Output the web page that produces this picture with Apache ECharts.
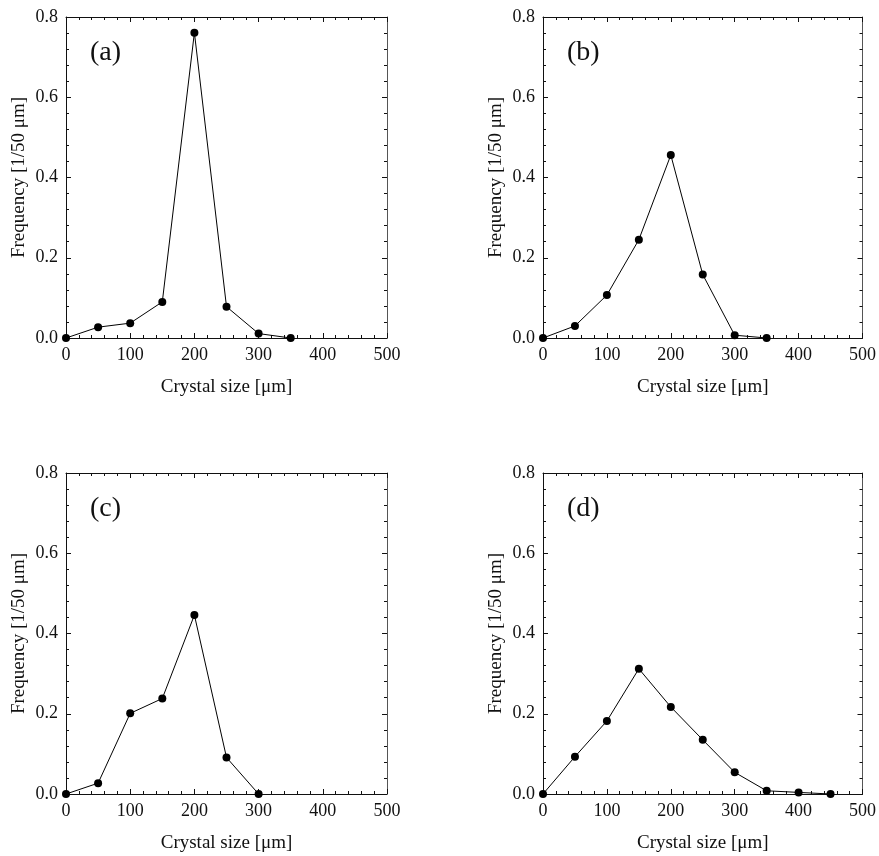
<!DOCTYPE html>
<html>
<head>
<meta charset="utf-8">
<style>
  html, body { margin: 0; padding: 0; background: #fff; }
  #main { width: 879px; height: 856px; }
</style>
<script src="https://cdn.jsdelivr.net/npm/echarts@6/dist/echarts.min.js"></script>
</head>
<body>
<div id="main"></div>
<script>
// crystal size distribution, four runs
var panelNames = ['(a)', '(b)', '(c)', '(d)'];
var sizeA = [0, 50, 100, 150, 200, 250, 300, 350];
var freqA = [0, 0.027, 0.037, 0.09, 0.761, 0.078, 0.011, 0];
var sizeB = [0, 50, 100, 150, 200, 250, 300, 350];
var freqB = [0, 0.03, 0.107, 0.245, 0.456, 0.158, 0.007, 0];
var sizeC = [0, 50, 100, 150, 200, 250, 300];
var freqC = [0, 0.027, 0.201, 0.238, 0.446, 0.091, 0];
var sizeD = [0, 50, 100, 150, 200, 250, 300, 350, 400, 450];
var freqD = [0, 0.093, 0.182, 0.312, 0.217, 0.135, 0.054, 0.008, 0.004, 0];
var xTicks = [0, 100, 200, 300, 400, 500];
var yTicks = [0, 0.2, 0.4, 0.6, 0.8];

var sizes = [sizeA, sizeB, sizeC, sizeD];
var freqs = [freqA, freqB, freqC, freqD];

var font = '"Liberation Serif", "Times New Roman", serif';
var gridPos = [
    { left: 66, top: 17 },
    { left: 543, top: 17 },
    { left: 66, top: 473 },
    { left: 543, top: 473 }
];

var chart = echarts.init(document.getElementById('main'));

var grids = [], xAxes = [], yAxes = [], series = [], titles = [];

function pairs(xs, ys) {
    var out = [];
    for (var i = 0; i < xs.length; i++) {
        out.push([xs[i], ys[i]]);
    }
    return out;
}

for (var p = 0; p < 4; p++) {
    grids.push({ left: gridPos[p].left, top: gridPos[p].top, width: 321, height: 321 });

    // bottom + top x axes (top only mirrors ticks)
    [0, 1].forEach(function (k) {
        xAxes.push({
            type: 'value',
            gridIndex: p,
            position: k === 0 ? 'bottom' : 'top',
            min: xTicks[0],
            max: xTicks[xTicks.length - 1],
            interval: 100,
            name: k === 0 ? 'Crystal size [\u03bcm]' : '',
            nameLocation: 'middle',
            nameGap: 40,
            nameTextStyle: { fontFamily: font, fontSize: 19, color: '#111' },
            axisLine: { show: true, onZero: false, lineStyle: { color: '#111', width: 1 } },
            axisTick: { show: true, inside: true, length: 5, lineStyle: { color: '#111' } },
            minorTick: { show: true, splitNumber: 5, length: 3, lineStyle: { color: '#111' } },
            axisLabel: { show: k === 0, margin: 8, fontFamily: font, fontSize: 18, color: '#111' },
            splitLine: { show: false }
        });
    });

    // left + right y axes
    [0, 1].forEach(function (k) {
        yAxes.push({
            type: 'value',
            gridIndex: p,
            position: k === 0 ? 'left' : 'right',
            min: yTicks[0],
            max: yTicks[yTicks.length - 1],
            interval: 0.2,
            name: k === 0 ? 'Frequency [1/50 \u03bcm]' : '',
            nameLocation: 'middle',
            nameGap: 37,
            nameTextStyle: { fontFamily: font, fontSize: 19, color: '#111' },
            axisLine: { show: true, onZero: false, lineStyle: { color: k === 0 ? '#111' : '#555', width: 1 } },
            axisTick: { show: true, inside: true, length: 5, lineStyle: { color: '#111' } },
            minorTick: { show: true, splitNumber: 5, length: 3, lineStyle: { color: '#111' } },
            axisLabel: {
                show: k === 0, margin: 8, fontFamily: font, fontSize: 18, color: '#111',
                formatter: function (v) { return v.toFixed(1); }
            },
            splitLine: { show: false }
        });
    });

    series.push({
        type: 'line',
        xAxisIndex: p * 2,
        yAxisIndex: p * 2,
        data: pairs(sizes[p], freqs[p]),
        symbol: 'circle',
        symbolSize: 8,
        lineStyle: { color: '#000', width: 1 },
        itemStyle: { color: '#000' },
        animation: false
    });

    titles.push({
        text: panelNames[p],
        left: gridPos[p].left + 19,
        top: gridPos[p].top + 17,
        textStyle: { fontFamily: font, fontSize: 28, fontWeight: 'normal', color: '#111' }
    });
}

chart.setOption({
    backgroundColor: '#fff',
    animation: false,
    title: titles,
    grid: grids,
    xAxis: xAxes,
    yAxis: yAxes,
    series: series
});
</script>
</body>
</html>
